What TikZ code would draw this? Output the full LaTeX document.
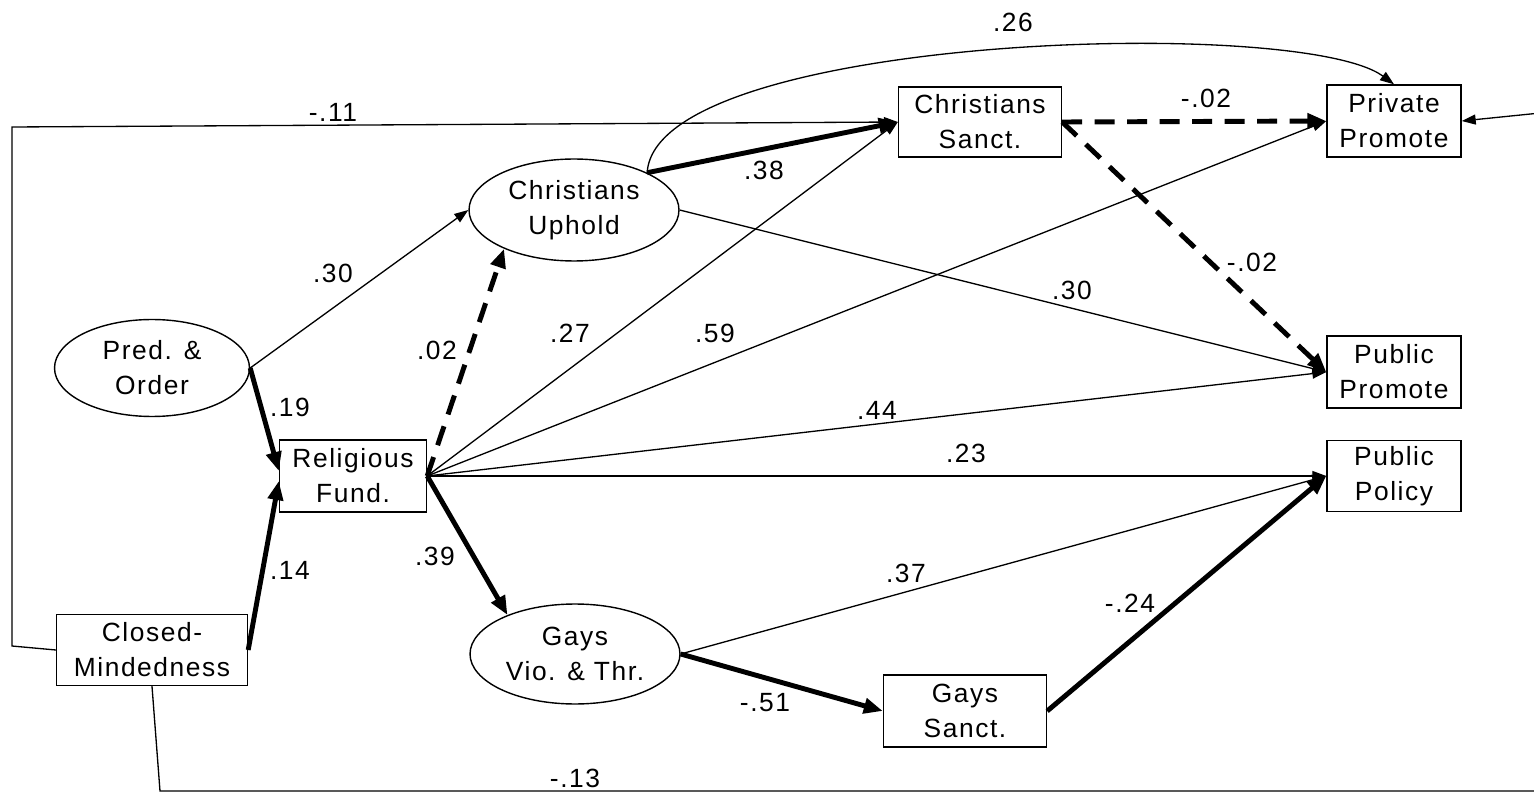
\documentclass[tikz,border=0pt]{standalone}
\usepackage{fontspec}
\newfontfamily\pathfont{Liberation Sans}[LetterSpace=6]
\usetikzlibrary{arrows.meta,shapes}
\tikzset{obs/.style={draw,line width=0.8pt,inner sep=0pt,align=center,font=\pathfont\fontsize{15}{20}\selectfont}}
\tikzset{lat/.style={ellipse,draw,line width=0.8pt,inner sep=0pt,align=center,font=\pathfont\fontsize{15}{20}\selectfont}}
\tikzset{coef/.style={inner sep=0pt,font=\pathfont\fontsize{15}{17}\selectfont}}
\tikzset{weak/.style={line width=0.75pt,-{Triangle[length=0.28cm,width=0.2cm]}}}
\tikzset{strong/.style={line width=2.8pt,-{Triangle[length=0.38cm,width=0.3cm]}}}
\tikzset{strongdash/.style={strong,dash pattern=on 0.4cm off 0.25cm}}

\begin{document}
\begin{tikzpicture}[x=0.02cm,y=-0.02cm]
\clip (0,0) rectangle (1534,793);

\node[lat,minimum width=3.9cm,minimum height=1.94cm] (pred) at (152,368) {Pred. \&\\Order};
\node[obs,minimum width=3.82cm,minimum height=1.42cm] (closed) at (152,650) {Closed-\\Mindedness};
\node[obs,minimum width=2.94cm,minimum height=1.44cm] (fund) at (353,476) {Religious\\Fund.};
\node[lat,minimum width=4.2cm,minimum height=2.04cm] (cuph) at (574,210) {Christians\\Uphold};
\node[lat,minimum width=4.2cm,minimum height=2cm] (gvio) at (575,654) {Gays\\Vio. \& Thr.};
\node[obs,minimum width=3.26cm,minimum height=1.4cm] (csan) at (980,122) {Christians\\Sanct.};
\node[obs,minimum width=3.26cm,minimum height=1.44cm] (gsan) at (965,711) {Gays\\Sanct.};
\node[obs,minimum width=2.68cm,minimum height=1.44cm] (ppriv) at (1394,121) {Private\\Promote};
\node[obs,minimum width=2.68cm,minimum height=1.44cm] (ppub) at (1394,372) {Public\\Promote};
\node[obs,minimum width=2.68cm,minimum height=1.42cm] (ppol) at (1394,476) {Public\\Policy};

\draw[weak] (pred.east) -- (cuph.west);
\draw[strong] (pred.east) -- ([yshift=0.1cm]fund.west);
\draw[strong] (closed.east) -- ([yshift=-0.1cm]fund.west);
\draw[strongdash] (fund.east) -- (cuph.209);
\draw[weak] (fund.east) -- (csan.west);
\draw[weak] (fund.east) -- (ppriv.west);
\draw[weak] (fund.east) -- (ppub.west);
\draw[weak] (fund.east) -- (ppol.west);
\draw[strong] (fund.east) -- (gvio.150);
\draw[strong] (cuph.27) -- (csan.west);
\draw[weak] (cuph.27) .. controls (655,35) and (1300,15) .. (ppriv.north);
\draw[weak] (cuph.east) -- (ppub.west);
\draw[strongdash] (csan.east) -- (ppriv.west);
\draw[strongdash] (csan.east) -- (ppub.west);
\draw[weak] (closed.west) -- (12,646) -- (12,127) -- (csan.west);
\draw[weak] (gvio.east) -- (ppol.west);
\draw[strong] (gvio.east) -- (gsan.west);
\draw[strong] (gsan.east) -- (ppol.west);
\draw[weak] (closed.south) -- (160,791) -- (1560,791) -- (1560,111) -- (ppriv.east);

\node[coef] (c26) at (1013,22) {.26};
\node[coef] (c11) at (333,112) {-.11};
\node[coef] (c02a) at (1206,98) {-.02};
\node[coef] (c38) at (764,170) {.38};
\node[coef] (c30a) at (333,273) {.30};
\node[coef] (c02) at (437,350) {.02};
\node[coef] (c27) at (570,333) {.27};
\node[coef] (c59) at (715,333) {.59};
\node[coef] (c02b) at (1252,262) {-.02};
\node[coef] (c30b) at (1072,290) {.30};
\node[coef] (c19) at (290,407) {.19};
\node[coef] (c44) at (877,410) {.44};
\node[coef] (c23) at (966,453) {.23};
\node[coef] (c39) at (435,556) {.39};
\node[coef] (c14) at (290,570) {.14};
\node[coef] (c37) at (906,573) {.37};
\node[coef] (c24) at (1130,603) {-.24};
\node[coef] (c51) at (765,703) {-.51};
\node[coef] (c13) at (575,778) {-.13};
\end{tikzpicture}
\end{document}
